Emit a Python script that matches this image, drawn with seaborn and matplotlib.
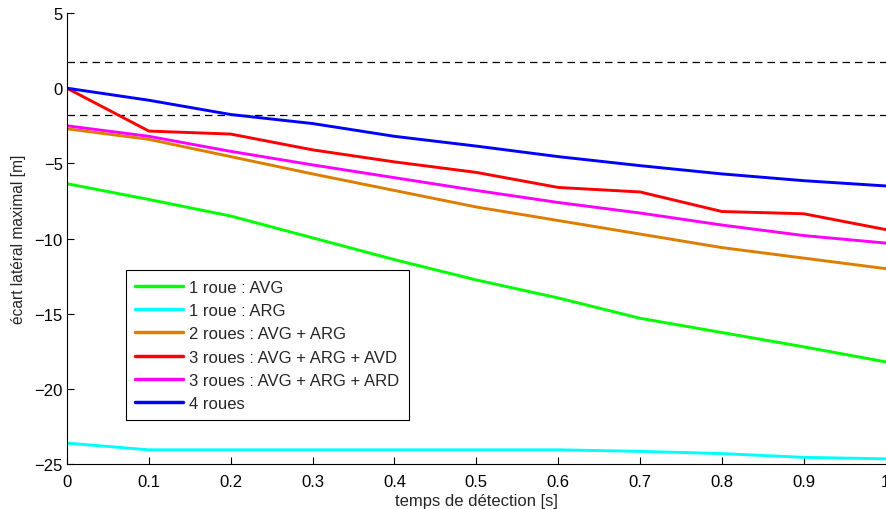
import matplotlib
matplotlib.use('Agg')
import matplotlib.pyplot as plt
import seaborn as sns
import pandas as pd

# temps de détection [s]
temps = [0, 0.1, 0.2, 0.3, 0.4, 0.5, 0.6, 0.7, 0.8, 0.9, 1.0]

# écart latéral maximal [m] pour chaque configuration
avg_1 = [-6.35, -7.4, -8.5, -9.95, -11.4, -12.75, -13.95, -15.3, -16.25, -17.2, -18.2]
arg_1 = [-23.6, -24.05, -24.05, -24.05, -24.05, -24.05, -24.05, -24.15, -24.3, -24.55, -24.65]
avg_arg = [-2.7, -3.4, -4.55, -5.7, -6.8, -7.9, -8.8, -9.7, -10.6, -11.3, -12.0]
avg_arg_avd = [0.0, -2.85, -3.05, -4.1, -4.9, -5.6, -6.6, -6.9, -8.2, -8.35, -9.4]
avg_arg_ard = [-2.5, -3.2, -4.2, -5.1, -5.95, -6.8, -7.6, -8.3, -9.1, -9.8, -10.3]
roues_4 = [0.0, -0.8, -1.75, -2.35, -3.2, -3.85, -4.55, -5.15, -5.7, -6.15, -6.5]

labels = ['1 roue : AVG', '1 roue : ARG', '2 roues : AVG + ARG',
          '3 roues : AVG + ARG + AVD', '3 roues : AVG + ARG + ARD', '4 roues']
couleurs = ['#00ff00', '#00ffff', '#de7d00', '#ff0000', '#ff00ff', '#0000ff']
seuil = 1.75

series = [avg_1, arg_1, avg_arg, avg_arg_avd, avg_arg_ard, roues_4]
df = pd.concat([pd.DataFrame({'t': temps, 'e': s, 'config': lab})
                for s, lab in zip(series, labels)], ignore_index=True)

sns.set_style('ticks')
plt.rcParams['font.family'] = ['Liberation Sans', 'DejaVu Sans']
plt.rcParams['axes.unicode_minus'] = True

fig = plt.figure(figsize=(8.87, 5.10), dpi=100)
ax = fig.add_axes([0.0755, 0.088, 0.923, 0.8845])

# limites de tolérance
ax.axhline(seuil, color='black', lw=0.9, linestyle=(0, (6, 4)))
ax.axhline(-seuil, color='black', lw=0.9, linestyle=(0, (6, 4)))

sns.lineplot(data=df, x='t', y='e', hue='config', hue_order=labels,
             palette=couleurs, linewidth=2.1, ax=ax, sort=False)

ax.set_xlim(0, 1)
ax.set_ylim(-25, 5)
ax.set_xticks(temps)
ax.set_xticklabels(['0', '0.1', '0.2', '0.3', '0.4', '0.5', '0.6', '0.7', '0.8', '0.9', '1'])
ax.set_yticks([5, 0, -5, -10, -15, -20, -25])
ax.tick_params(direction='in', length=5, width=0.8, labelsize=12, colors='black')
ax.tick_params(axis='x', pad=7)
ax.tick_params(axis='y', pad=3)
ax.set_xlabel('temps de détection [s]', fontsize=12, labelpad=3)
ax.set_ylabel('écart latéral maximal [m]', fontsize=11.2, labelpad=6)
for side in ['top', 'right']:
    ax.spines[side].set_visible(False)
for side in ['left', 'bottom']:
    ax.spines[side].set_linewidth(0.8)
    ax.spines[side].set_color('black')

leg = ax.legend(loc='lower left', bbox_to_anchor=(0.072, 0.097), fontsize=12,
                frameon=True, fancybox=False, framealpha=1, edgecolor='black',
                handlelength=2.9, handletextpad=0.35, borderpad=0.55, labelspacing=0.5,
                borderaxespad=0)
leg.get_frame().set_linewidth(0.8)
for line in leg.get_lines():
    line.set_linewidth(2.5)

fig.savefig('out.png', dpi=100)
